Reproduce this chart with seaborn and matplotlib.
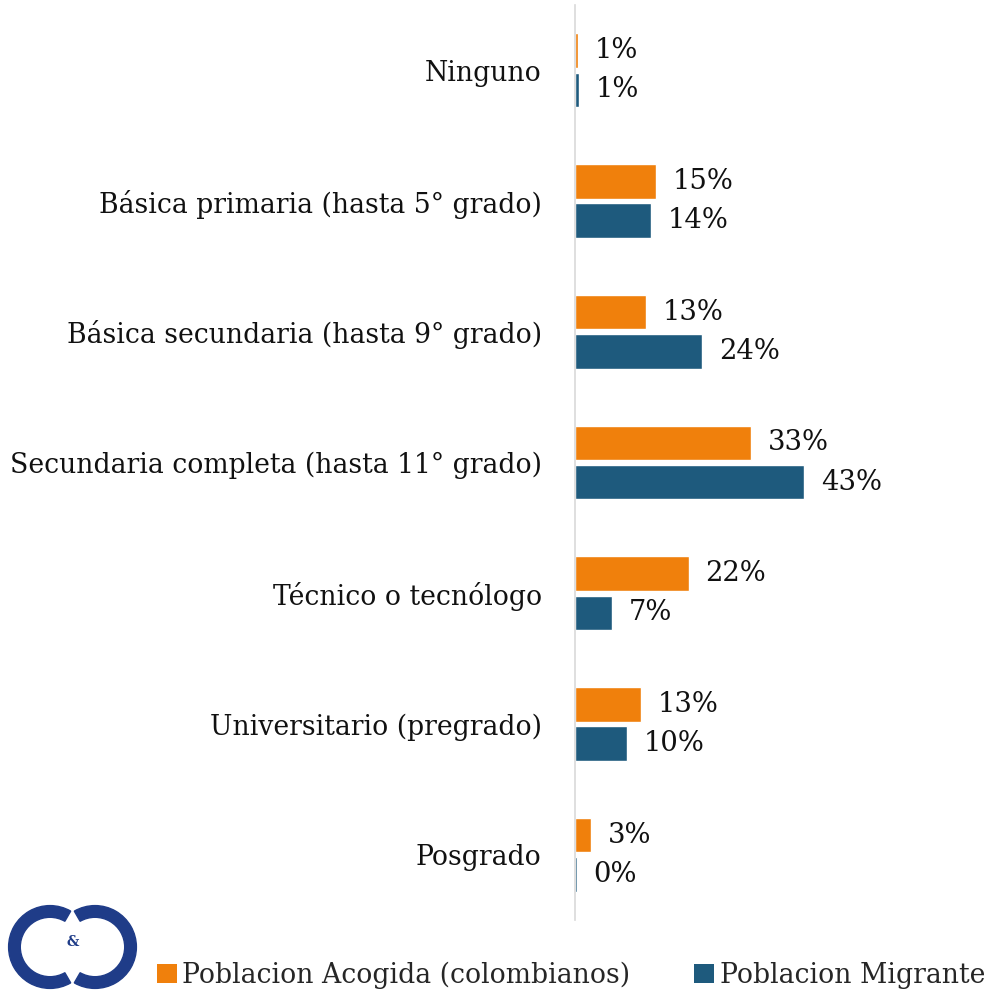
import matplotlib.pyplot as plt
import pandas as pd
import seaborn as sns
from matplotlib.patches import Wedge, Patch

categories = [
    'Ninguno',
    'Básica primaria (hasta 5° grado)',
    'Básica secundaria (hasta 9° grado)',
    'Secundaria completa (hasta 11° grado)',
    'Técnico o tecnólogo',
    'Universitario (pregrado)',
    'Posgrado',
]
series_names = ['Poblacion Acogida (colombianos)', 'Poblacion Migrante']
acogida = [0.6, 15.3, 13.4, 33.2, 21.5, 12.5, 3.0]
migrante = [0.8, 14.3, 24.0, 43.2, 7.0, 9.8, 0.3]
acogida_labels = ['1%', '15%', '13%', '33%', '22%', '13%', '3%']
migrante_labels = ['1%', '14%', '24%', '43%', '7%', '10%', '0%']
colors = ['#F0800C', '#1E5A7D']

df = pd.DataFrame({
    'categoria': categories * 2,
    'serie': [series_names[0]] * len(categories) + [series_names[1]] * len(categories),
    'valor': acogida + migrante,
})

sns.set_theme(style='white')
plt.rcParams['font.family'] = ['DejaVu Serif']
FS = 19.2

W = 994
fig = plt.figure(figsize=(9.94, 9.94), dpi=100)
ax = fig.add_axes([575 / W, 1 - 920 / W, (W - 575) / W, 915 / W])

sns.barplot(data=df, y='categoria', x='valor', hue='serie', order=categories,
            hue_order=series_names, palette=colors, saturation=1, orient='h',
            width=0.6, gap=0.12, legend=False, ax=ax)

for container, labels in zip(ax.containers, [acogida_labels, migrante_labels]):
    ax.bar_label(container, labels=labels, padding=12, fontsize=FS + 0.5, color='#111111')

ax.set_xlim(0, (W - 575) / 5.3)
ax.set_xlabel('')
ax.set_ylabel('')
ax.set_xticks([])
ax.tick_params(axis='y', length=0, pad=24, labelsize=FS, labelcolor='#111111')
for side in ['top', 'right', 'bottom']:
    ax.spines[side].set_visible(False)
ax.spines['left'].set_color('#d9d9d9')
ax.spines['left'].set_linewidth(1.2)

handles = [Patch(facecolor=c, edgecolor='none') for c in colors]
fig.legend(handles, series_names, loc='center left', bbox_to_anchor=(157 / W, 1 - 975 / W),
           ncol=2, frameon=False, fontsize=FS, handlelength=0.75, handleheight=0.75,
           handletextpad=0.2, columnspacing=2.4, borderaxespad=0, borderpad=0)

# logo
lax = fig.add_axes([5 / W, 1 - 992 / W, 135 / W, 90 / W])
lax.set_xlim(0, 1.5)
lax.set_ylim(0, 1)
lax.set_aspect('equal')
lax.axis('off')
navy = '#1F3C88'
lax.add_patch(Wedge((0.5, 0.5), 0.46, 60, 300, width=0.13, color=navy))
lax.add_patch(Wedge((1.0, 0.5), 0.46, -120, 120, width=0.13, color=navy))
lax.text(0.75, 0.56, '&', ha='center', va='center', fontsize=10, fontweight='bold', color=navy)

fig.savefig('out.png', dpi=100)
